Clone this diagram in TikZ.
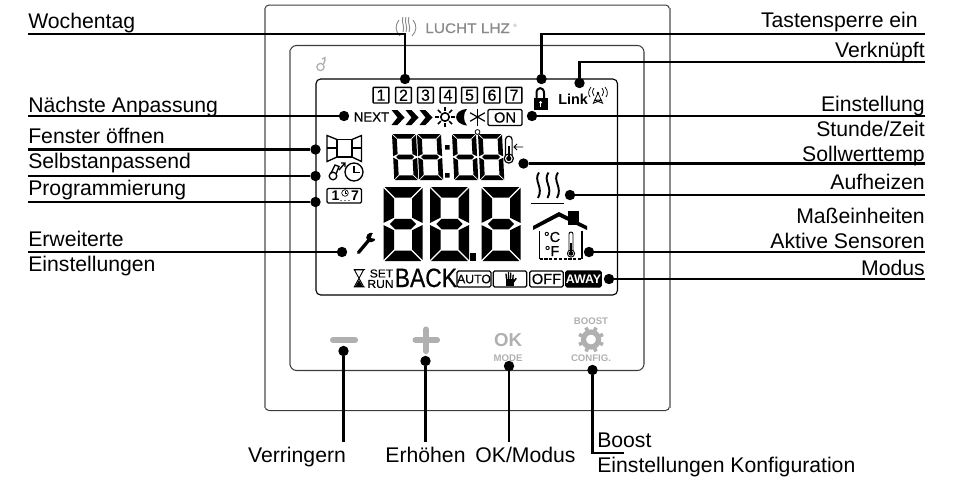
\documentclass[tikz,border=0pt]{standalone}
\usepackage{fontspec}
\setmainfont{Liberation Sans}
\newfontfamily\medfont[FakeBold=0.5]{Liberation Sans}
\newcommand{\lblfont}{\fontsize{15.9}{18}\selectfont}
\newcommand{\px}[1]{\fontsize{#1}{#1}\selectfont}
\definecolor{btn}{HTML}{B0B0B0}
\definecolor{frameg}{HTML}{8A8A8A}
\definecolor{framed}{HTML}{3C3C3C}
\newcommand{\sevenseg}[6]{% x y w h t slant
\begin{scope}[shift={(#1,#2)},xslant=#6]
\pgfmathsetmacro{\W}{#3}\pgfmathsetmacro{\Hh}{#4}\pgfmathsetmacro{\T}{#5}
\pgfmathsetmacro{\G}{max(0.7,\T*0.1)}\pgfmathsetmacro{\M}{\Hh/2}
\fill (\G,0) -- ({\W-\G},0) -- ({\W-\T-\G},\T) -- ({\T+\G},\T) -- cycle;
\fill (\G,\Hh) -- ({\W-\G},\Hh) -- ({\W-\T-\G},{\Hh-\T}) -- ({\T+\G},{\Hh-\T}) -- cycle;
\fill ({\G+\T/2},\M) -- ({\T+\G},{\M-\T/2}) -- ({\W-\T-\G},{\M-\T/2}) -- ({\W-\G-\T/2},\M) -- ({\W-\T-\G},{\M+\T/2}) -- ({\T+\G},{\M+\T/2}) -- cycle;
\fill (0,\G) -- (\T,{\T+\G}) -- (\T,{\M-\T/2-\G}) -- (0,{\M-\G}) -- cycle;
\fill (\W,\G) -- ({\W-\T},{\T+\G}) -- ({\W-\T},{\M-\T/2-\G}) -- (\W,{\M-\G}) -- cycle;
\fill (0,{\M+\G}) -- (\T,{\M+\T/2+\G}) -- (\T,{\Hh-\T-\G}) -- (0,{\Hh-\G}) -- cycle;
\fill (\W,{\M+\G}) -- ({\W-\T},{\M+\T/2+\G}) -- ({\W-\T},{\Hh-\T-\G}) -- (\W,{\Hh-\G}) -- cycle;
\end{scope}}
\tikzset{
 dotn/.style={circle,fill=black,inner sep=0pt,minimum size=7.8pt},
 conn/.style={line width=1.65pt,black},
 lblw/.style={anchor=base west,inner sep=0pt,font=\lblfont},
 lble/.style={anchor=base east,inner sep=0pt,font=\lblfont},
 lblc/.style={anchor=base,inner sep=0pt,font=\lblfont},
 daybox/.style={draw,line width=1pt,rounded corners=0.5pt,minimum width=11.8pt,minimum height=11.8pt,inner sep=0pt,font=\medfont\px{12}},
 modebox/.style={draw,line width=0.9pt,rounded corners=1pt,minimum width=25pt,minimum height=12pt,inner sep=0pt},
 btntext/.style={text=btn,inner sep=0pt,font=\bfseries\px{7.2}}
}
\begin{document}
\begin{tikzpicture}[x=0.75pt,y=-0.75pt]
\useasboundingbox (0,0) rectangle (953,479);
% housing
\draw[framed,line width=0.75pt,rounded corners=3pt] (265,5) rectangle (669.5,410.5);
\draw[frameg,line width=1.2pt] (265,8) -- (265,408);
\draw[frameg,line width=1.5pt] (669.5,8) -- (669.5,408);
\draw[framed,line width=0.8pt,rounded corners=5pt] (290,45.5) rectangle (644,370.5);
\draw[frameg,line width=0.8pt] (290,50) -- (290,365);
\draw[black,line width=0.85pt,rounded corners=3.5pt] (316,79) rectangle (617.5,295);
% logo
\begin{scope}[frameg,line width=0.7pt]
\draw (399,20) .. controls (395,25) and (395,31) .. (400,36);
\draw (413,20) .. controls (417,25) and (417,31) .. (412,36);
\foreach \xx in {403,406,409}{
\draw (\xx,17) .. controls (\xx-2.5,22) and (\xx+2.5,26) .. (\xx,32);}
\end{scope}
\node[anchor=base west,inner sep=0pt,text=frameg,font=\medfont\px{10.4}] (logo) at (425,33) {\scalebox{1.11}[1]{LUCHT LHZ}};
\node[anchor=base west,inner sep=0pt,text=frameg,font=\px{3.5}] (logor) at (513,27) {®};
% small mark
\draw[btn,line width=1pt] (320.5,67) circle[radius=3.6];
\draw[btn,line width=1pt] (323.5,64) .. controls (325,62) and (325,60) .. (325,57.5) -- (322,59);
% day boxes
\foreach \xx/\dd in {381/1,403.5/2,425.5/3,448/4,469.5/5,492/6,514/7}{
\node[daybox] (day\dd) at (\xx,95.2) {\dd};}
% lock
\draw[line width=1.5pt] (536.5,98) -- (536.5,93) .. controls (536.5,86.5) and (544,86.5) .. (544,93) -- (544,98);
\fill (533.5,98) rectangle (547.5,109.5);
\fill[white] (540.5,102.5) circle[radius=1.5];
\fill[white] (539.9,103) rectangle (541.1,107);
% link
\node[anchor=base west,inner sep=0pt,font=\bfseries\px{10.8}] (linktxt) at (558,104) {Link};
\begin{scope}[line width=0.55pt]
\fill (598,93) circle[radius=1.4];
\draw (598,93) -- (593,104) (598,93) -- (603,104) (595,100) -- (601,100) (594,103) -- (602,100) (602,103) -- (594,100);
\draw (594,88) .. controls (592,91) and (592,94) .. (594,96);
\draw (602,88) .. controls (604,91) and (604,94) .. (602,96);
\draw (591,87) .. controls (588,91) and (588,94) .. (590,97);
\draw (605,87) .. controls (608,91) and (608,94) .. (606,97);
\end{scope}
% next row
\node[anchor=center,inner sep=0pt,font=\medfont\px{9.9}] (nexttxt) at (371.5,117) {NEXT};
\foreach \xx in {391.5,405.5,419.5}{
\fill (\xx,110) -- (\xx+6,110) -- (\xx+13,117.5) -- (\xx+6,125) -- (\xx,125) -- (\xx+6,117.5) -- cycle;}
\draw[line width=1.2pt] (445,117) circle[radius=4.2];
\foreach \aa in {0,45,...,315}{
\draw[line width=1.2pt] (445,117) ++(\aa:6) -- ++(\aa:4);}
\fill (467,109) .. controls (452.5,110) and (452.5,124) .. (467,125.5) .. controls (463,121) and (463,113) .. (467,109) -- cycle;
\foreach \aa in {30,90,150}{
\draw[line width=0.9pt] (477.5,117) ++(\aa:-8.5) -- ++(\aa:17);}
\node[modebox,minimum width=25.5pt,font=\medfont\px{11}] (onbox) at (505,117.5) {ON};
% window
\draw[line width=1pt] (337,139.5) rectangle (352,157);
\draw[line width=1pt] (337,139.5) -- (327,135.5) -- (327,161.5) -- (337,157);
\draw[line width=1pt] (352,139.5) -- (361.5,135.5) -- (361.5,161.5) -- (352,157);
\draw[line width=1pt] (327,148) -- (337,148) (352,148) -- (361.5,148);
% self adapting
\draw[line width=1pt] (354,172) circle[radius=9];
\draw[line width=1pt] (354,165.5) -- (354,172.5) -- (360,172.5);
\draw[line width=1pt] (333,176) circle[radius=3.8];
\draw[line width=1pt] (331,173) -- (335,165) -- (339,166.5) -- (336,174);
\draw[line width=1pt] (339,170) -- (345,163) (341,163) -- (345,163) -- (345,167);
% programming
\draw[line width=0.9pt,rounded corners=1pt] (327,188.5) rectangle (361.5,203);
\node[inner sep=0pt,font=\bfseries\px{10.5}] (prg1) at (335.5,196) {1};
\node[inner sep=0pt,font=\bfseries\px{10.5}] (prg7) at (355,196) {7};
\draw[line width=0.5pt] (345,193) circle[radius=3.3];
\draw[line width=0.4pt] (345,191) -- (345,193) -- (347,193);
\fill (341,200.5) circle[radius=0.6] (345,200.5) circle[radius=0.6] (349,200.5) circle[radius=0.6];
% small digits
\sevenseg{392}{134}{24}{46}{4.6}{-0.05}
\sevenseg{417}{134}{24}{46}{4.6}{-0.05}
\sevenseg{452}{134}{24}{46}{4.6}{-0.05}
\sevenseg{478}{134}{24}{46}{4.6}{-0.05}
\fill (445,145) rectangle (449.5,149.5) (445,173) rectangle (449.5,177.5);
\draw[line width=0.6pt] (477.5,132) circle[radius=2.4];
% setpoint thermometer
\draw[line width=0.9pt] (505.5,155) -- (505.5,139.5) arc[start angle=180,end angle=360,radius=3.3] -- (512.1,155);
\draw[line width=0.9pt] (508.8,158.5) circle[radius=4.6];
\fill (508.8,158.5) circle[radius=2.6];
\fill (507.8,146) rectangle (509.8,157);
\draw[line width=0.7pt] (523,147) -- (514,147) (517,144) -- (514,147) -- (517,150);
% big digits
\sevenseg{383.5}{187}{39}{74}{10.5}{0}
\sevenseg{430}{187}{39}{74}{10.5}{0}
\sevenseg{481.5}{187}{39}{74}{10.5}{0}
\fill (469.5,252.5) rectangle (476,261);
% heat
\foreach \xx in {538,547.5,557}{
\draw[line width=1.45pt] (\xx+1,172.5) .. controls (\xx-5,181) and (\xx+6,187) .. (\xx,198);}
\draw[line width=1.1pt] (531,203.5) -- (563.5,203.5);
% house
\fill (568,211) rectangle (579,225);
\fill (533,226) -- (559,212) -- (587,226) -- (587,230) -- (559,216.5) -- (533,230) -- cycle;
\draw[line width=1pt] (539.5,231) -- (539.5,259);
\draw[line width=1pt] (582,231) -- (582,259);
\draw[line width=1pt,dash pattern=on 2.4pt off 1.2pt] (539.5,259) -- (582,259);
\node[inner sep=0pt,font=\medfont\px{10.8}] (degc) at (552,237) {°C};
\node[inner sep=0pt,font=\medfont\px{10.8}] (degf) at (552,251) {°F};
\draw[line width=0.7pt] (569,251) -- (569,234) arc[start angle=180,end angle=360,radius=2] -- (573,251);
\draw[line width=0.7pt] (571,253.5) circle[radius=3.6];
\fill (571,253.5) circle[radius=2.3];
\fill (570.2,243) rectangle (571.8,252);
% wrench
\draw[line width=2.5pt,line cap=round] (358.5,252.5) -- (369,240);
\fill (371,237.5) circle[radius=4.8];
\fill[white] (372.5,232) -- (371,238) -- (376,239) -- (378,233) -- cycle;
\fill (373,233) -- (369.5,233) -- (370,237) -- cycle;
% bottom row
\draw[line width=0.7pt] (353.5,269.5) -- (365,269.5) (353.5,287) -- (365,287)
 (354.5,270) -- (363.5,270) -- (354.5,286.5) -- (363.5,286.5) -- cycle;
\fill (359,280) -- (362.8,286.5) -- (355.2,286.5) -- cycle;
\node[anchor=center,inner sep=0pt,font=\medfont\px{8.6}] (settxt) at (381.5,273.5) {\scalebox{1.05}[1]{SET}};
\node[anchor=center,inner sep=0pt,font=\medfont\px{8.6}] (runtxt) at (380.5,284) {\scalebox{1.05}[1]{RUN}};
\node[anchor=base west,inner sep=0pt,font=\medfont\px{19.5}] (backtxt) at (394.5,287) {\scalebox{0.88}[1.02]{BACK}};
\node[modebox,font=\medfont\px{9.2}] (autobox) at (474,279) {AUTO};
\node[modebox] (handbox) at (510,279) {};
\fill (505.5,279) rectangle (514,286);
\draw[line width=1pt,line cap=round] (506.5,279) -- (506,274) (508.5,279) -- (508.5,272.5) (510.5,279) -- (510.8,273) (512.7,280) -- (513.2,275);
\draw[line width=1.2pt,line cap=round] (513.5,282) -- (516,278.5);
\node[modebox,font=\medfont\px{11}] (offbox) at (546.5,279) {OFF};
\node[modebox,fill=black,text=white,font=\bfseries\px{9.3}] (awaybox) at (583.5,279) {AWAY};
% buttons
\draw[btn,line width=4.6pt,line cap=round] (333,340) -- (355,340);
\draw[btn,line width=4.6pt,line cap=round] (415.5,340) -- (437,340) (426,329.5) -- (426,351);
\node[text=btn,inner sep=0pt,font=\bfseries\px{14}] (oktxt) at (508,340) {OK};
\node[btntext] (modetxt) at (508,358.3) {MODE};
\node[btntext] (boosttxt) at (591,321.3) {BOOST};
\node[btntext] (configtxt) at (591,358.3) {CONFIG.};
\draw[btn,line width=3.9pt] (591,339.5) circle[radius=7.5];
\foreach \aa in {0,45,...,315}{
\draw[btn,line width=2.7pt] (591,339.5) ++(\aa+22.5:8) -- ++(\aa+22.5:5);}
% labels
\node[lblw] (wochentag) at (28,28) {Wochentag};
\node[lble] (tasten) at (918,27) {Tastensperre ein};
\node[lble] (verk) at (925,57) {Verknüpft};
\node[lblw] (naechste) at (28,112) {Nächste Anpassung};
\node[lble] (einst) at (925,111) {Einstellung};
\node[lble] (stunde) at (925,136) {Stunde/Zeit};
\node[lble] (soll) at (925,161) {Sollwerttemp};
\node[lble] (aufh) at (925,189) {Aufheizen};
\node[lble] (mass) at (925,223) {Maßeinheiten};
\node[lble] (aktiv) at (925,248) {Aktive Sensoren};
\node[lble] (modus) at (925,275) {Modus};
\node[lblw] (fenster) at (28,143) {Fenster öffnen};
\node[lblw] (selbst) at (28,168) {Selbstanpassend};
\node[lblw] (prog) at (28,195) {Programmierung};
\node[lblw] (erw1) at (28,246) {Erweiterte};
\node[lblw] (erw2) at (28,271) {Einstellungen};
\node[lblc] (verr) at (297,462) {Verringern};
\node[lblc] (erh) at (425.5,462) {Erhöhen};
\node[lblc] (okm) at (525.5,462) {OK/Modus};
\node[lblw] (boost) at (597,447) {Boost};
\node[lblw] (konf) at (597,472) {Einstellungen Konfiguration};
% dots
\node[dotn] (dW) at (405,79) {};
\node[dotn] (dT) at (541.5,79) {};
\node[dotn] (dV) at (579.5,83) {};
\node[dotn] (dN) at (344,116) {};
\node[dotn] (dE) at (532,116) {};
\node[dotn] (dS) at (523.5,163.5) {};
\node[dotn] (dA) at (570,195) {};
\node[dotn] (dM) at (589,252) {};
\node[dotn] (dO) at (609,279) {};
\node[dotn] (dF) at (315.5,149.5) {};
\node[dotn] (dL) at (315.5,176) {};
\node[dotn] (dP) at (315.5,202) {};
\node[dotn] (dR) at (342,252) {};
\node[dotn] (bM) at (343.5,351) {};
\node[dotn] (bP) at (425.5,361) {};
\node[dotn] (bO) at (509,366) {};
\node[dotn] (bB) at (592.5,370) {};
% free ends
\foreach \n/\xx/\yy in {cW/28/34,cWb/405/34,cT/925/34,cTb/541.5/34,cV/925/62,cVb/579.5/62,cN/28/116,cE/925/116,cS/925/163.5,cA/925/195,cM/925/252,cO/925/279,cF/28/149.5,cL/28/176,cP/28/202,cR/28/252,eM/343.5/442,eP/425.5/442,eO/509/442,eBb/592.5/453,eB/624/453}{
\coordinate (\n) at (\xx,\yy);}
% connectors
\draw[conn] (cW) -- (cWb) -- (dW);
\draw[conn] (cT) -- (cTb) -- (dT);
\draw[conn] (cV) -- (cVb) -- (dV);
\draw[conn] (cN) -- (dN);
\draw[conn] (cE) -- (dE);
\draw[conn] (cS) -- (dS);
\draw[conn] (cA) -- (dA);
\draw[conn] (cM) -- (dM);
\draw[conn] (cO) -- (dO);
\draw[conn] (cF) -- (dF);
\draw[conn] (cL) -- (dL);
\draw[conn] (cP) -- (dP);
\draw[conn] (cR) -- (dR);
\draw[conn] (bM) -- (eM);
\draw[conn] (bP) -- (eP);
\draw[conn] (bO) -- (eO);
\draw[conn] (bB) -- (eBb) -- (eB);
\end{tikzpicture}
\end{document}
